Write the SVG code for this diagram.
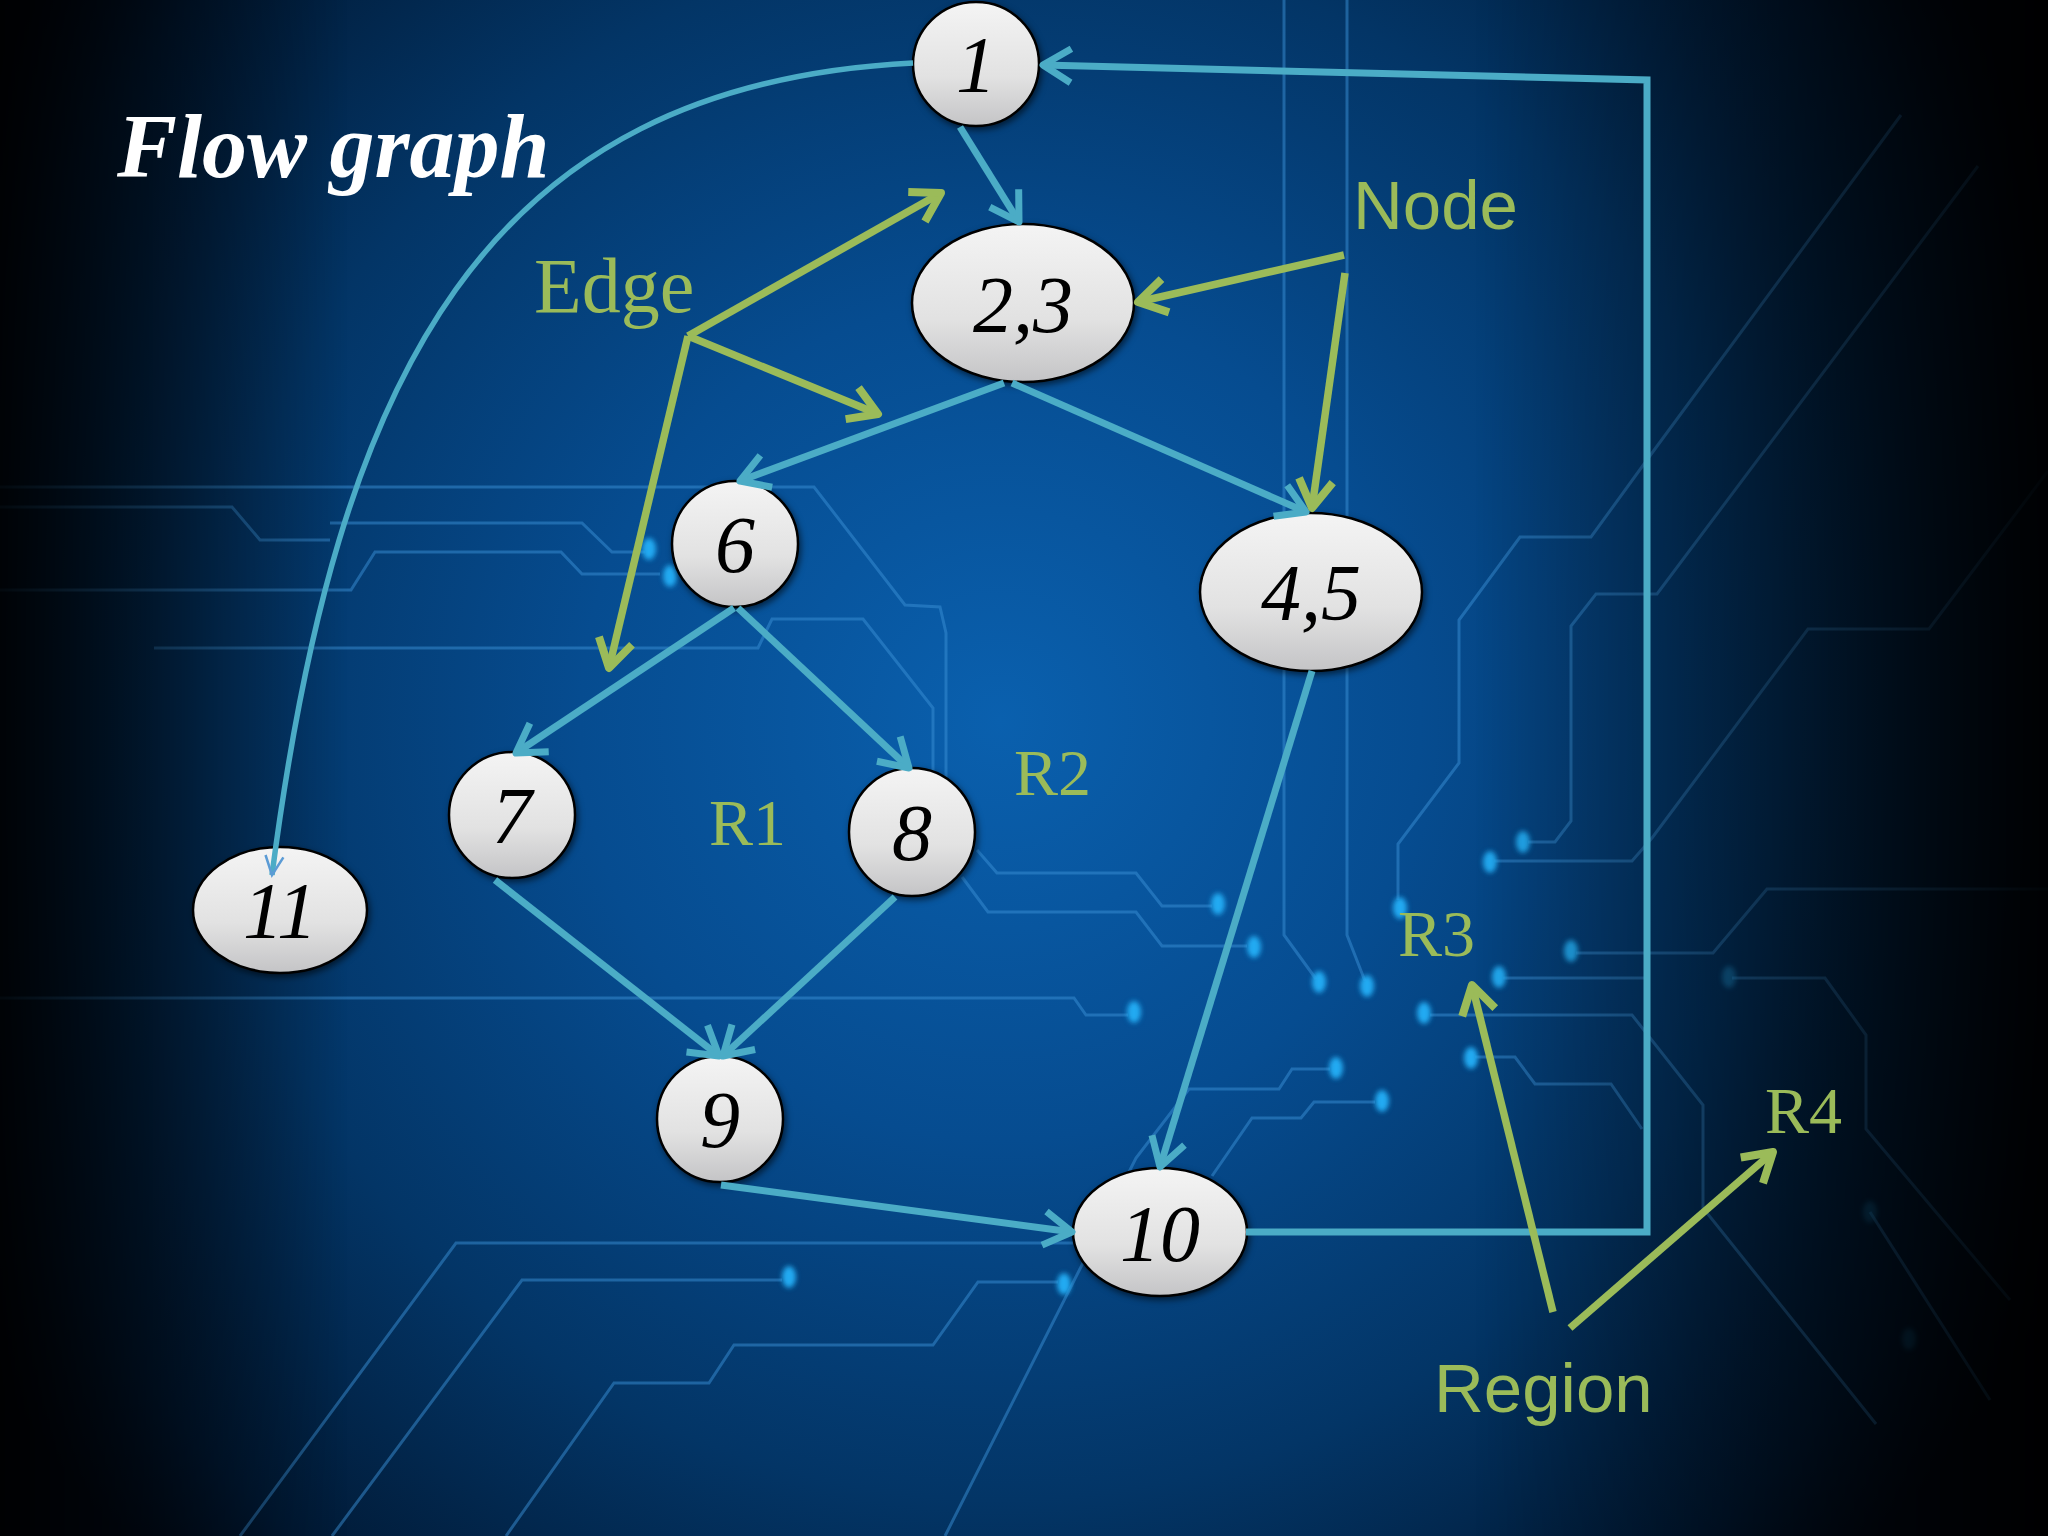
<svg xmlns="http://www.w3.org/2000/svg" width="2048" height="1536" viewBox="0 0 2048 1536">
<defs>
<radialGradient id="bg" cx="1000" cy="720" r="1200" gradientUnits="userSpaceOnUse">
<stop offset="0" stop-color="#0a60ae"/>
<stop offset="0.35" stop-color="#064c90"/>
<stop offset="0.65" stop-color="#033566"/>
<stop offset="0.9" stop-color="#011a36"/>
<stop offset="1" stop-color="#000b1a"/>
</radialGradient>
<linearGradient id="edges" x1="0" y1="0" x2="2048" y2="0" gradientUnits="userSpaceOnUse">
<stop offset="0" stop-color="#000" stop-opacity="0.9"/>
<stop offset="0.17" stop-color="#000" stop-opacity="0"/>
<stop offset="0.72" stop-color="#000" stop-opacity="0"/>
<stop offset="1" stop-color="#000" stop-opacity="0.95"/>
</linearGradient>
<linearGradient id="nodefill" x1="0" y1="0" x2="0" y2="1">
<stop offset="0" stop-color="#f4f4f4"/>
<stop offset="0.6" stop-color="#e2e2e2"/>
<stop offset="1" stop-color="#c4c4c6"/>
</linearGradient>
<filter id="shadow" x="-20%" y="-20%" width="140%" height="140%">
<feDropShadow dx="2" dy="3" stdDeviation="3" flood-color="#000" flood-opacity="0.55"/>
</filter>
<filter id="glow" x="-100%" y="-100%" width="300%" height="300%">
<feGaussianBlur stdDeviation="2.5"/>
</filter>
<marker id="ab" viewBox="0 0 44 44" refX="41" refY="22" markerWidth="44" markerHeight="44" orient="auto" markerUnits="userSpaceOnUse" overflow="visible">
<path d="M13,5 L41,22 L13,39" fill="none" stroke="#4bacc6" stroke-width="7" stroke-linejoin="round"/>
</marker>
<marker id="ag" viewBox="0 0 44 44" refX="41" refY="22" markerWidth="44" markerHeight="44" orient="auto" markerUnits="userSpaceOnUse" overflow="visible">
<path d="M13,5 L41,22 L13,39" fill="none" stroke="#9bbb59" stroke-width="8" stroke-linejoin="round"/>
</marker>
<marker id="at" viewBox="0 0 30 30" refX="28" refY="15" markerWidth="30" markerHeight="30" orient="auto" markerUnits="userSpaceOnUse" overflow="visible">
<path d="M9,6 L28,15 L9,24" fill="none" stroke="#5b9bd5" stroke-width="2.5"/>
</marker>
<style>
.trace{fill:none;stroke:#3a8fd6;stroke-width:3;stroke-opacity:0.5}
.dot{fill:#22aaf2}
.node{fill:url(#nodefill);stroke:#000;stroke-width:2.5;filter:url(#shadow)}
.num{font-family:"Liberation Serif","Times New Roman",serif;font-style:italic;font-size:80px;fill:#000;text-anchor:middle}
.blue{fill:none;stroke:#4bacc6;stroke-width:7}
.green{fill:none;stroke:#9bbb59;stroke-width:7.5}
.lblserif{font-family:"Liberation Serif","Times New Roman",serif;fill:#9bbb59}
.lblsans{font-family:"Liberation Sans",Arial,sans-serif;fill:#9bbb59;font-size:69px}
</style>
</defs>

<g id="background">
<rect width="2048" height="1536" fill="url(#bg)"/>
<g id="traces">
<polyline class="trace" points="0,487 814,487 905,605 940,607 946,633 946,800"/>
<polyline class="trace" points="0,507 232,507 260,540 330,540"/>
<polyline class="trace" points="330,523 582,523 612,552 645,552"/>
<polyline class="trace" points="0,590 351,590 375,552 561,552 582,574 660,574"/>
<polyline class="trace" points="154,648 758,648 772,619 863,619 933,708 933,800"/>
<polyline class="trace" points="977,850 997,873 1136,873 1162,906 1212,906"/>
<polyline class="trace" points="962,877 988,912 1136,912 1162,946 1247,946"/>
<polyline class="trace" points="0,998 1074,998 1086,1015 1128,1015"/>
<polyline class="trace" points="240,1536 456,1243 1075,1243"/>
<polyline class="trace" points="332,1536 522,1280 782,1280"/>
<polyline class="trace" points="506,1536 614,1383 709,1383 734,1345 933,1345 978,1282 1058,1282"/>
<polyline class="trace" points="945,1536 1136,1158 1189,1089 1279,1089 1292,1069 1330,1069"/>
<polyline class="trace" points="1212,1176 1252,1118 1301,1118 1314,1102 1375,1102"/>
<polyline class="trace" points="1284,0 1284,935 1316,979"/>
<polyline class="trace" points="1347,0 1347,935 1365,981"/>
<polyline class="trace" points="1398,900 1398,844 1459,763 1459,620 1520,537 1591,537 1652,453 1901,115"/>
<polyline class="trace" points="1528,842 1555,842 1571,821 1571,626 1596,594 1657,594 1978,166"/>
<polyline class="trace" points="1494,861 1632,861 1652,838 1808,629 1929,629 2048,471"/>
<polyline class="trace" points="1576,953 1713,953 1767,889 2048,889"/>
<polyline class="trace" points="1503,978 1645,978"/>
<polyline class="trace" points="1430,1015 1632,1015 1703,1105 1703,1208 1876,1424"/>
<polyline class="trace" points="1475,1057 1515,1057 1535,1084 1611,1084 1642,1129"/>
<polyline class="trace" points="1732,978 1825,978 1866,1035 1866,1129 2010,1300"/>
<polyline class="trace" points="1870,1212 1990,1400"/>
</g>
<g id="dots" filter="url(#glow)">
<ellipse class="dot" cx="649" cy="549" rx="7" ry="11"/>
<ellipse class="dot" cx="670" cy="576" rx="7" ry="11"/>
<ellipse class="dot" cx="1218" cy="904" rx="7" ry="11"/>
<ellipse class="dot" cx="1254" cy="947" rx="7" ry="11"/>
<ellipse class="dot" cx="1134" cy="1012" rx="7" ry="11"/>
<ellipse class="dot" cx="1319" cy="982" rx="7" ry="11"/>
<ellipse class="dot" cx="1367" cy="986" rx="7" ry="11"/>
<ellipse class="dot" cx="1400" cy="908" rx="7" ry="11"/>
<ellipse class="dot" cx="1490" cy="862" rx="7" ry="11"/>
<ellipse class="dot" cx="1523" cy="842" rx="7" ry="11"/>
<ellipse class="dot" cx="1571" cy="951" rx="7" ry="11"/>
<ellipse class="dot" cx="1499" cy="977" rx="7" ry="11"/>
<ellipse class="dot" cx="1424" cy="1013" rx="7" ry="11"/>
<ellipse class="dot" cx="1336" cy="1068" rx="7" ry="11"/>
<ellipse class="dot" cx="1382" cy="1101" rx="7" ry="11"/>
<ellipse class="dot" cx="1471" cy="1058" rx="7" ry="11"/>
<ellipse class="dot" cx="789" cy="1277" rx="7" ry="11"/>
<ellipse class="dot" cx="1064" cy="1284" rx="7" ry="11"/>
<ellipse class="dot" cx="1729" cy="977" rx="7" ry="11" opacity="0.5"/>
<ellipse class="dot" cx="1870" cy="1212" rx="7" ry="11" opacity="0.35"/>
<ellipse class="dot" cx="1909" cy="1339" rx="7" ry="11" opacity="0.3"/>
</g>
<rect width="2048" height="1536" fill="url(#edges)"/>
</g>

<text id="title" x="117" y="177" font-family="Liberation Serif,'Times New Roman',serif" font-size="90" font-weight="bold" font-style="italic" fill="#ffffff">Flow graph</text>

<g id="n1"><ellipse class="node" cx="976" cy="64" rx="63" ry="62"/><text class="num" x="976" y="92">1</text></g>
<g id="n23"><ellipse class="node" cx="1023" cy="303" rx="111" ry="79"/><text class="num" x="1023" y="332">2,3</text></g>
<g id="n6"><ellipse class="node" cx="735" cy="544" rx="63" ry="63"/><text class="num" x="735" y="572">6</text></g>
<g id="n45"><ellipse class="node" cx="1311" cy="592" rx="111" ry="79"/><text class="num" x="1311" y="620">4,5</text></g>
<g id="n7"><ellipse class="node" cx="512" cy="815" rx="63" ry="63"/><text class="num" x="512" y="843">7</text></g>
<g id="n8"><ellipse class="node" cx="912" cy="832" rx="63" ry="64"/><text class="num" x="912" y="860">8</text></g>
<g id="n11"><ellipse class="node" cx="280" cy="910" rx="87" ry="63"/><text class="num" x="280" y="938">11</text></g>
<g id="n9"><ellipse class="node" cx="720" cy="1119" rx="63" ry="63"/><text class="num" x="720" y="1147">9</text></g>
<g id="n10"><ellipse class="node" cx="1160" cy="1232" rx="87" ry="64"/><text class="num" x="1160" y="1261">10</text></g>

<g id="connectors">
<path d="M913,63 C483,85 337,375 272,875" fill="none" stroke="#4bacc6" stroke-width="5.5" marker-end="url(#at)"/>
<line class="blue" x1="960" y1="127" x2="1019" y2="222" marker-end="url(#ab)"/>
<line class="blue" x1="1004" y1="383" x2="740" y2="481" marker-end="url(#ab)"/>
<line class="blue" x1="1012" y1="383" x2="1306" y2="512" marker-end="url(#ab)"/>
<line class="blue" x1="734" y1="608" x2="516" y2="753" marker-end="url(#ab)"/>
<line class="blue" x1="738" y1="608" x2="909" y2="768" marker-end="url(#ab)"/>
<line class="blue" x1="495" y1="880" x2="719" y2="1056" marker-end="url(#ab)"/>
<line class="blue" x1="895" y1="897" x2="723" y2="1056" marker-end="url(#ab)"/>
<line class="blue" x1="1312" y1="671" x2="1160" y2="1167" stroke-width="5" marker-end="url(#ab)"/>
<line class="blue" x1="721" y1="1185" x2="1072" y2="1232" stroke-width="9" marker-end="url(#ab)"/>
<polyline class="blue" points="1246,1232 1647,1232 1647,80 1043,65" marker-end="url(#ab)"/>
<line class="green" x1="688" y1="336" x2="941" y2="193" marker-end="url(#ag)"/>
<line class="green" x1="688" y1="336" x2="878" y2="414" marker-end="url(#ag)"/>
<line class="green" x1="688" y1="336" x2="609" y2="668" stroke-width="5.5" marker-end="url(#ag)"/>
<line class="green" x1="1344" y1="255" x2="1138" y2="302" marker-end="url(#ag)"/>
<line class="green" x1="1345" y1="273" x2="1312" y2="508" stroke-width="5.5" marker-end="url(#ag)"/>
<line class="green" x1="1553" y1="1312" x2="1472" y2="985" marker-end="url(#ag)"/>
<line class="green" x1="1570" y1="1328" x2="1773" y2="1152" marker-end="url(#ag)"/>
</g>

<g id="labels">
<text class="lblserif" x="534" y="312" font-size="78">Edge</text>
<text class="lblsans" x="1353" y="229">Node</text>
<text class="lblsans" x="1434" y="1412">Region</text>
<text class="lblserif" x="709" y="845" font-size="66">R1</text>
<text class="lblserif" x="1014" y="795" font-size="66">R2</text>
<text class="lblserif" x="1398" y="956" font-size="66">R3</text>
<text class="lblserif" x="1765" y="1133" font-size="66">R4</text>
</g>
</svg>
